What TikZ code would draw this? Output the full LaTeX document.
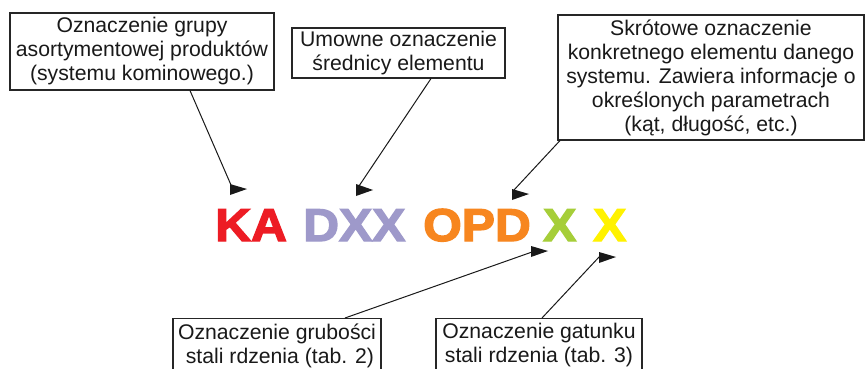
\documentclass[tikz,border=0pt]{standalone}
\usepackage{fontspec}
\setmainfont{Liberation Sans}
\newfontfamily\bigfont[FakeBold=3,FakeStretch=1.08]{Liberation Sans Bold}
\definecolor{cred}{HTML}{ED1C24}
\definecolor{clav}{HTML}{9E99CA}
\definecolor{corange}{HTML}{F7861F}
\definecolor{cgreen}{HTML}{A6CE39}
\definecolor{cyellow}{HTML}{FFF200}
\tikzset{
  infobox/.style={draw=black!85, line width=1.1pt, align=center, inner sep=0pt,
    font=\fontsize{21.2}{24}\selectfont, text=black!90},
  lowbox/.style={infobox, anchor=north, inner xsep=0pt, inner ysep=5pt},
  code/.style={anchor=base west, inner sep=0pt, font=\bigfont\fontsize{46}{46}\selectfont},
  conn/.style={draw=black!90, line width=1pt},
  flag/.style={fill=black!90}
}
\begin{document}
\begin{tikzpicture}[x=1pt,y=-1pt]
\useasboundingbox (0,0) rectangle (865,369);
\clip (0,0) rectangle (865,369);
\fill[white] (0,0) rectangle (865,369);
% boxes
\node[infobox, minimum width=264pt, minimum height=77pt] (b1) at (142,51.5)
  {Oznaczenie grupy\\asortymentowej produktów\\(systemu kominowego.)};
\node[infobox, minimum width=213pt, minimum height=50pt] (b2) at (398.5,53)
  {Umowne oznaczenie\\średnicy elementu};
\node[infobox, minimum width=306pt, minimum height=125pt] (b3) at (711,77.5)
  {Skrótowe oznaczenie\\konkretnego elementu danego\\systemu. Zawiera informacje o\\określonych parametrach\\(kąt, długość, etc.)};
\node[lowbox, minimum width=208pt] (b4) at (277,318)
  {Oznaczenie grubości\\\ stali rdzenia (tab. 2)};
\node[lowbox, minimum width=206pt] (b5) at (539,318)
  {Oznaczenie gatunku\\stali rdzenia (tab. 3)};
% code letters
\node[code, text=cred] (ka) at (215,241) {KA};
\node[code, text=clav] (dxx) at (303,241) {DXX};
\node[code, text=corange] (opd) at (423,241) {OPD};
\node[code, text=cgreen] (x1) at (543,241) {X};
\node[code, text=cyellow] (x2) at (593,241) {X};
% connector ends
\coordinate (e1) at (231,185);
\coordinate (e2) at (359,186);
\coordinate (e3) at (514,190);
\coordinate (e4) at (532,252);
\coordinate (e5) at (600,256);
\draw[conn] ([xshift=48pt]b1.south) -- (e1);
\draw[conn] ([xshift=32.5pt]b2.south) -- (e2);
\draw[conn] ([xshift=-151pt]b3.south) -- (e3);
\draw[conn] ([xshift=68pt]b4.north) -- (e4);
\draw[conn] ([xshift=3pt]b5.north) -- (e5);
% horizontal flag arrowheads
\fill[flag] (230,184) -- (230,195) -- (247,189) -- cycle;
\fill[flag] (356,184) -- (356,196) -- (373,190) -- cycle;
\fill[flag] (512,189) -- (512,200) -- (529,194) -- cycle;
\fill[flag] (531,246) -- (531,257) -- (548,251) -- cycle;
\fill[flag] (599,252) -- (599,263) -- (616,257) -- cycle;
\end{tikzpicture}
\end{document}
